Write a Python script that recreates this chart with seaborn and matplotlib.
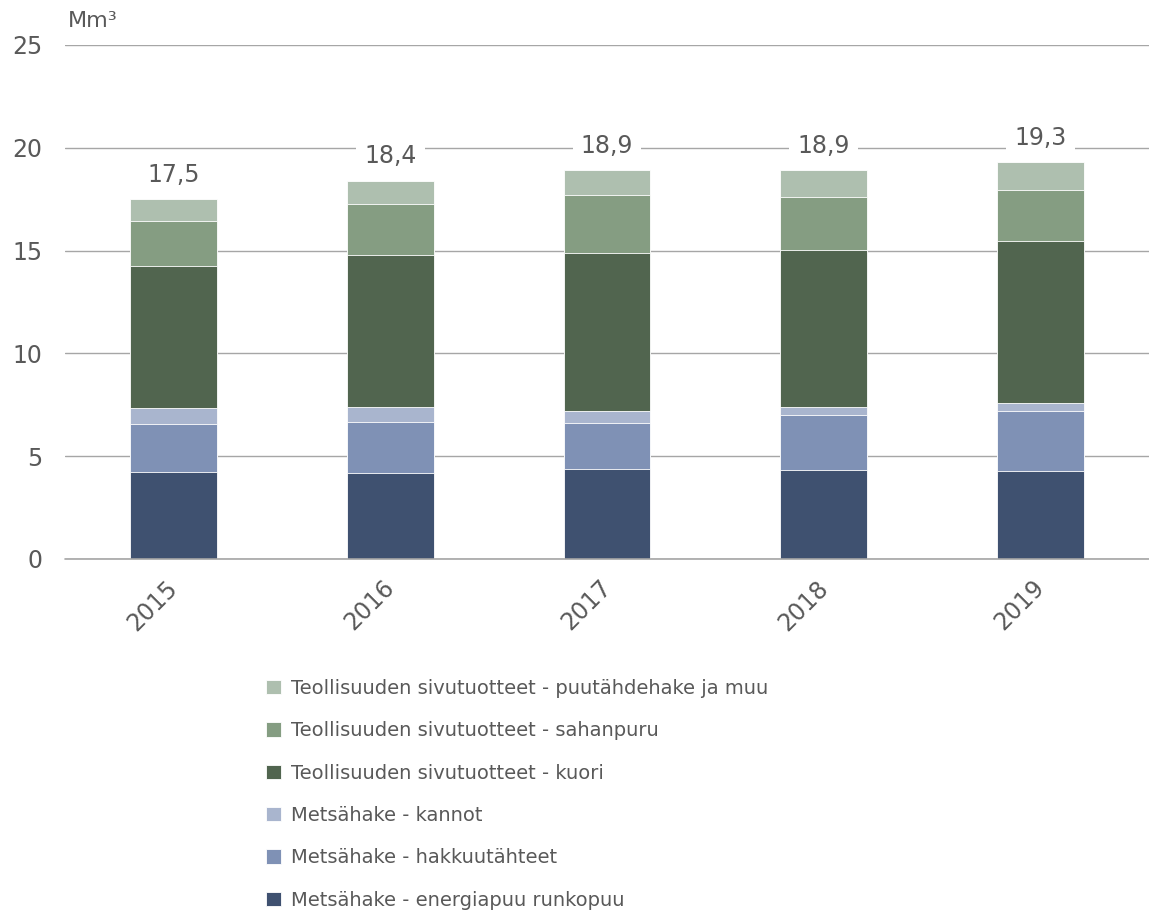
import numpy as np
import pandas as pd
import seaborn as sns
import matplotlib.transforms as mtransforms
from matplotlib import pyplot as plt


"""
Data (Mm3), bottom layer first
"""
years = ['2015', '2016', '2017', '2018', '2019']
series = ['Metsähake - energiapuu runkopuu',
          'Metsähake - hakkuutähteet',
          'Metsähake - kannot',
          'Teollisuuden sivutuotteet - kuori',
          'Teollisuuden sivutuotteet - sahanpuru',
          'Teollisuuden sivutuotteet - puutähdehake ja muu']
energiapuu = [4.21, 4.16, 4.38, 4.34, 4.29]
hakkuutahteet = [2.34, 2.48, 2.24, 2.67, 2.92]
kannot = [0.79, 0.76, 0.57, 0.39, 0.36]
kuori = [6.92, 7.38, 7.67, 7.65, 7.89]
sahanpuru = [2.20, 2.48, 2.82, 2.58, 2.47]
puutahde = [1.04, 1.14, 1.22, 1.27, 1.37]
totals = ['17,5', '18,4', '18,9', '18,9', '19,3']
colors = ['#3F5170', '#7F91B5', '#A9B5CE', '#51654F', '#859D82', '#AEBFAF']

values = np.array([energiapuu, hakkuutahteet, kannot, kuori, sahanpuru, puutahde])
tops = values.cumsum(axis=0)

rows = []
for s, row in zip(series, tops):
   for y, v in zip(years, row):
      rows.append({'year': y, 'series': s, 'top': v})
df = pd.DataFrame(rows)


"""
Plot
"""
sns.set_style('white')
plt.rcParams['font.family'] = ['DejaVu Sans']
text_color = '#595959'
grid_color = '#A6A6A6'

fig = plt.figure(figsize=(11.49, 9.11), dpi=100)
ax = fig.add_axes([65 / 1149, 1 - 559 / 911, 1 - 65 / 1149, (559 - 45) / 911])

# draw tallest stack first so lower layers sit on top
for s, c in reversed(list(zip(series, colors))):
   sns.barplot(data=df[df.series == s], x='year', y='top', order=years,
               color=c, saturation=1, width=0.4, errorbar=None,
               edgecolor='white', linewidth=0.6, label=s, ax=ax)

if ax.get_legend() is not None:
   ax.get_legend().remove()

for i, t in enumerate(totals):
   ax.annotate(t, (i, tops[-1][i]), xytext=(0, 9), textcoords='offset points',
               ha='center', va='bottom', fontsize=17, color=text_color,
               bbox=dict(boxstyle='square,pad=0.35', fc='white', ec='none'))

ax.set_ylim(0, 25)
ax.set_xlim(-0.5, 4.5)
ax.set_yticks(np.arange(0, 26, 5))
ax.yaxis.grid(True, color=grid_color, linewidth=1.0)
ax.set_axisbelow(True)
ax.axhline(0, color=grid_color, linewidth=1.2, clip_on=False, zorder=3)
for sp in ax.spines.values():
   sp.set_visible(False)
ax.set_xlabel('')
ax.set_ylabel('')
ax.tick_params(axis='y', length=0, pad=16.5, labelsize=17, labelcolor=text_color)
ax.tick_params(axis='x', length=0, pad=12, labelsize=17, labelcolor=text_color)
shift = mtransforms.ScaledTranslation(-8 / 100, 0, fig.dpi_scale_trans)
for lab in ax.get_xticklabels():
   lab.set_rotation(45)
   lab.set_ha('right')
   lab.set_rotation_mode('anchor')
   lab.set_transform(lab.get_transform() + shift)

fig.text(68 / 1149, 1 - 21 / 911, 'Mm³', fontsize=16, color=text_color,
         va='center', ha='left')

handles, labels = ax.get_legend_handles_labels()
fig.legend(handles, labels, loc='upper left',
           bbox_to_anchor=(266 / 1149, 1 - 679 / 911), frameon=False,
           fontsize=14, labelcolor=text_color, handlelength=0.75,
           handleheight=0.75, handletextpad=0.55, labelspacing=1.2,
           borderpad=0, borderaxespad=0)

plt.savefig('out.png', dpi=100)
